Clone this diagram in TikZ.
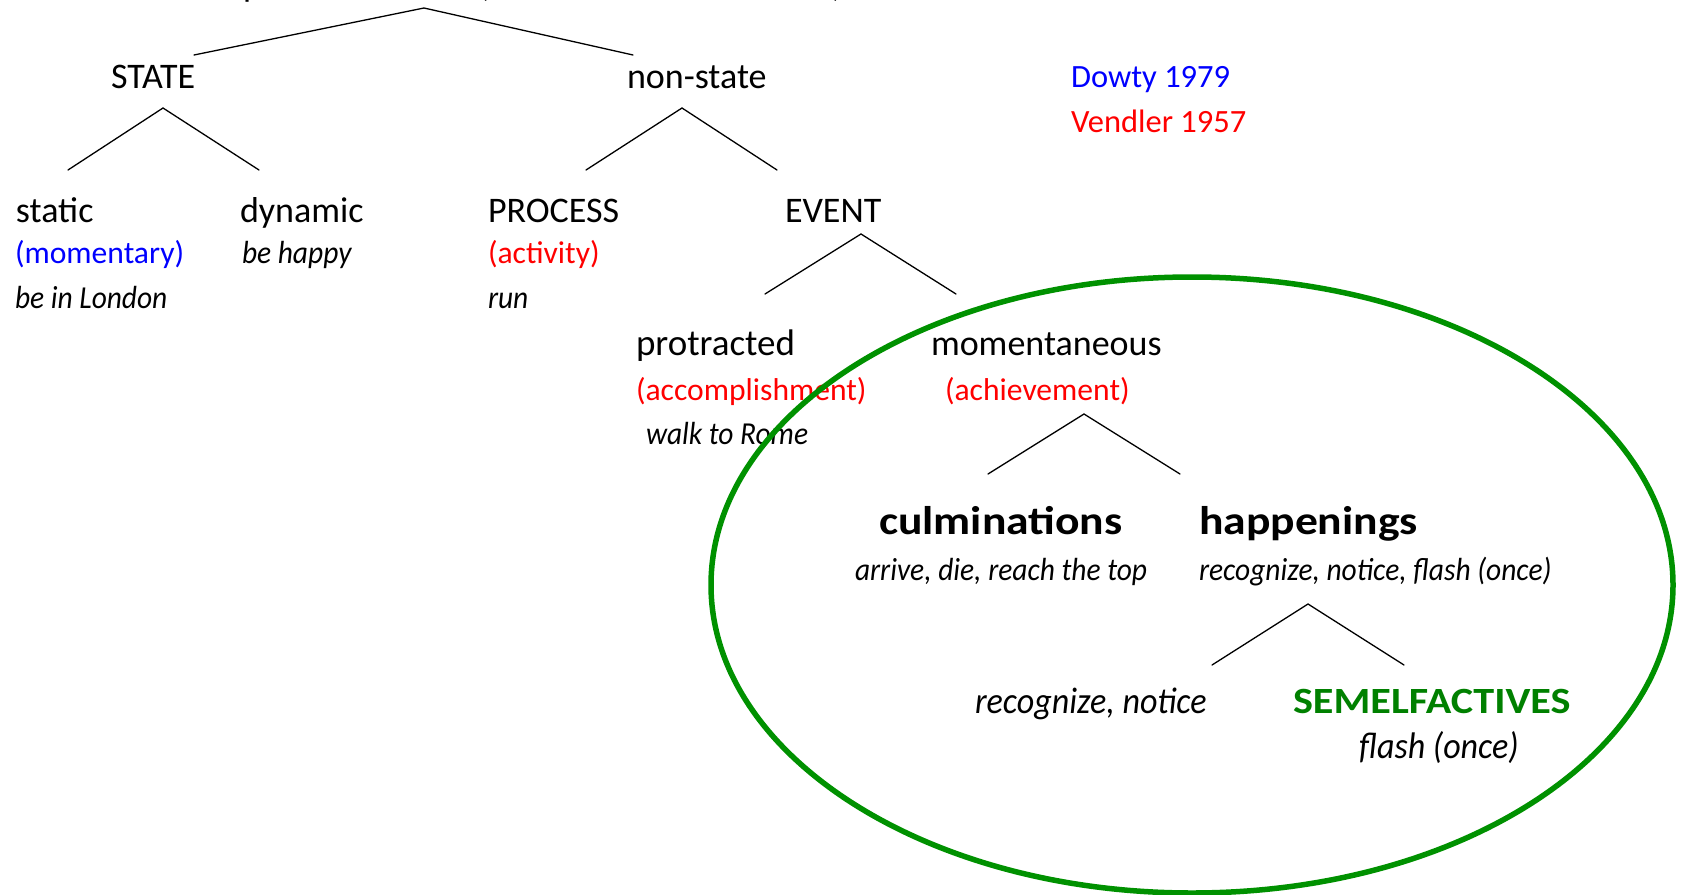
\documentclass[tikz,border=0pt]{standalone}
\usepackage{fontspec}
\setmainfont{Carlito}
\newfontfamily\itfam[FakeStretch=0.92]{Carlito}
\newfontfamily\bffam[FakeStretch=1.14]{Carlito}
\definecolor{ringgreen}{RGB}{0,145,0}
\definecolor{semgreen}{RGB}{0,128,0}
\definecolor{dowtyblue}{RGB}{0,0,255}
\definecolor{vendlerred}{RGB}{255,0,0}
\begin{document}
\begin{tikzpicture}[x=1pt,y=-1pt,
  lbl/.style={anchor=base west, inner sep=0pt, outer sep=0pt},
  cat/.style={lbl, font=\fontsize{36}{40}\selectfont},
  gloss/.style={lbl, font=\fontsize{31.6}{36}\selectfont},
  ref/.style={lbl, font=\fontsize{32.5}{36}\selectfont},
  ex/.style={lbl, font=\itfam\itshape\fontsize{32}{36}\selectfont},
  exbig/.style={lbl, font=\itfam\itshape\fontsize{37}{42}\selectfont},
  big/.style={lbl, font=\bffam\bfseries\fontsize{40}{44}\selectfont},
  branch/.style={line width=1.3pt, line cap=round},
]
\useasboundingbox (0,0) rectangle (1683,894);

% heading line, running above the top edge
\node[cat] (headp) at (243,-4) {p};
\node[cat] (headl) at (478,-4) {(};
\node[cat] (headr) at (832,-4) {)};

% first split
\node[cat] (state)    at (111,88)  {STATE};
\node[cat] (nonstate) at (627,88)  {non-state};
\node[ref, text=dowtyblue]  (dowty)   at (1071,87)  {Dowty 1979};
\node[ref, text=vendlerred] (vendler) at (1071,132) {Vendler 1957};

% second level
\node[cat] (static)  at (16,222)  {static};
\node[cat] (dynamic) at (240,222) {dynamic};
\node[cat] (process) at (488,222) {PROCESS};
\node[cat] (event)   at (785,222) {EVENT};
\node[gloss, text=dowtyblue]  (momentary) at (15,263)  {(momentary)};
\node[ex] (behappy)  at (242,263) {be happy};
\node[gloss, text=vendlerred] (activity)  at (488,263) {(activity)};
\node[ex] (london)   at (15,308)  {be in London};
\node[ex] (run)      at (488,308) {run};

% events
\node[cat, font=\fontsize{37}{40}\selectfont] (protracted) at (636,355) {protracted};
\node[cat] (momentaneous) at (931,355) {momentaneous};
\node[gloss, text=vendlerred] (accomp)  at (636,400) {(accomplishment)};
\node[gloss, text=vendlerred] (achieve) at (945,400) {(achievement)};
\node[ex] (walk) at (646,444) {walk to Rome};

% momentaneous events
\node[big] (culm)  at (879,534)  {culminations};
\node[big] (happ)  at (1199,534) {happenings};
\node[ex]  (culmex) at (855,580)  {arrive, die, reach the top};
\node[ex]  (happex) at (1199,580) {recognize, notice, flash (once)};
\node[exbig] (recog)  at (975,713)  {recognize, notice};
\node[big, text=semgreen, font=\bffam\bfseries\fontsize{37}{42}\selectfont] (semel) at (1293,713) {SEMELFACTIVES};
\node[exbig] (flash)  at (1359,758) {flash (once)};

% branching lines: apex x, apex y, left end x, right end x, end y
\foreach \ax/\ay/\lx/\rx/\by [count=\i] in {
  424/8/194/633/55,
  163/108/68/259/170,
  682/108/586/777/170,
  861/234/765/956/294,
  1084/414/988/1180/474,
  1308/604/1212/1404/665} {
  \coordinate (apex\i) at (\ax,\ay);
  \coordinate (left\i) at (\lx,\by);
  \coordinate (right\i) at (\rx,\by);
  \draw[branch] (left\i) -- (apex\i) -- (right\i);
}

% ring round the momentaneous subtree
\coordinate (ringc) at (1192,585);
\draw[ringgreen, line width=5.5pt] (ringc) ellipse [x radius=481pt, y radius=308pt];
\end{tikzpicture}
\end{document}
